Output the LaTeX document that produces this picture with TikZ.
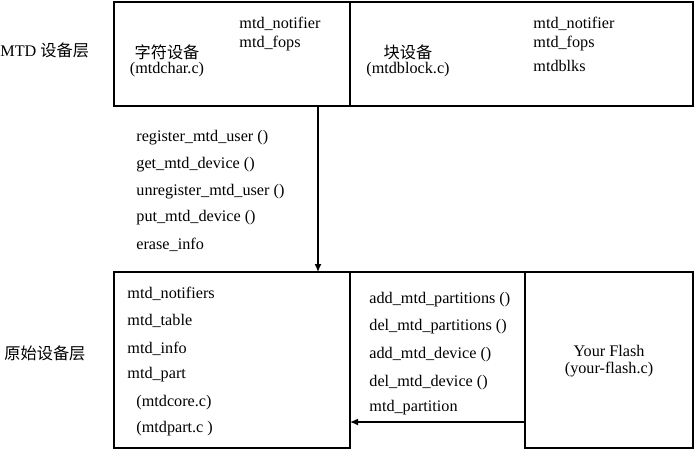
\documentclass[tikz,border=0pt]{standalone}
\usepackage{fontspec}
\setmainfont{Liberation Serif}
\newfontfamily\cjk{Noto Sans CJK SC}
\usetikzlibrary{arrows.meta}

\tikzset{
  box/.style={draw, line width=0.6pt, anchor=north west, inner sep=0pt, outer sep=0pt},
  txt/.style={anchor=west, inner sep=0pt},
  ctxt/.style={inner sep=0pt},
  link/.style={line width=0.6pt, -{Latex[length=4pt,width=3.4pt]}}
}

\begin{document}
\begin{tikzpicture}[x=0.5pt, y=-0.5pt, font=\fontsize{8.1}{10}\selectfont]
\useasboundingbox (0,0) rectangle (696,450);

% boxes
\node[box, minimum width=118pt, minimum height=52pt] (chr) at (114,2) {};
\node[box, minimum width=171.5pt, minimum height=52pt] (blk) at (350,2) {};
\node[box, minimum width=118pt, minimum height=88pt] (core) at (114,272) {};
\node[box, minimum width=84pt, minimum height=88pt] (flash) at (525,272) {};
\draw[line width=0.6pt] (core.north east) -- (flash.north west);

% layer names
\node[txt] (mtdlayer) at (0,50) {MTD {\cjk 设备层}};
\node[txt] (rawlayer) at (4,353) {\cjk 原始设备层};

% upper layer
\node[ctxt] (chrname) at (167,52) {\cjk 字符设备};
\node[ctxt] (chrfile) at (167,70) {(mtdchar.c)};
\node[txt] (chrn) at (239,24) {mtd\_notifier};
\node[txt] (chrf) at (239,44) {mtd\_fops};

\node[ctxt] (blkname) at (408,52) {\cjk 块设备};
\node[ctxt] (blkfile) at (408,70) {(mtdblock.c)};
\node[txt] (blkn) at (533,24) {mtd\_notifier};
\node[txt] (blkf) at (533,44) {mtd\_fops};
\node[txt] (blkb) at (533,66) {mtdblks};

% calls between the layers
\foreach \y/\t [count=\i] in {138/register\_mtd\_user (), 165/get\_mtd\_device (),
  192/unregister\_mtd\_user (), 218/put\_mtd\_device (), 245/erase\_info}{
\node[txt] (call\i) at (136,\y) {\t};
}

% raw device layer
\foreach \y/\t [count=\i] in {294/mtd\_notifiers, 321/mtd\_table, 349/mtd\_info, 375/mtd\_part}{
\node[txt] (core\i) at (127,\y) {\t};
}
\node[txt] (corefile) at (136,403) {(mtdcore.c)};
\node[txt] (partfile) at (136,429) {(mtdpart.c )};

\foreach \y/\t [count=\i] in {300/add\_mtd\_partitions (), 327/del\_mtd\_partitions (),
  355/add\_mtd\_device (), 383/del\_mtd\_device (), 408/mtd\_partition}{
\node[txt] (part\i) at (369,\y) {\t};
}

\node[ctxt] (flashname) at (609,351) {Your Flash};
\node[ctxt] (flashfile) at (609,370) {(your-flash.c)};

% arrows
\draw[link] ([xshift=-16pt]chr.south east) -- ([xshift=-16pt]core.north east);
\draw[link] ([yshift=13pt]flash.south west) -- ([yshift=13pt]core.south east);
\end{tikzpicture}
\end{document}
